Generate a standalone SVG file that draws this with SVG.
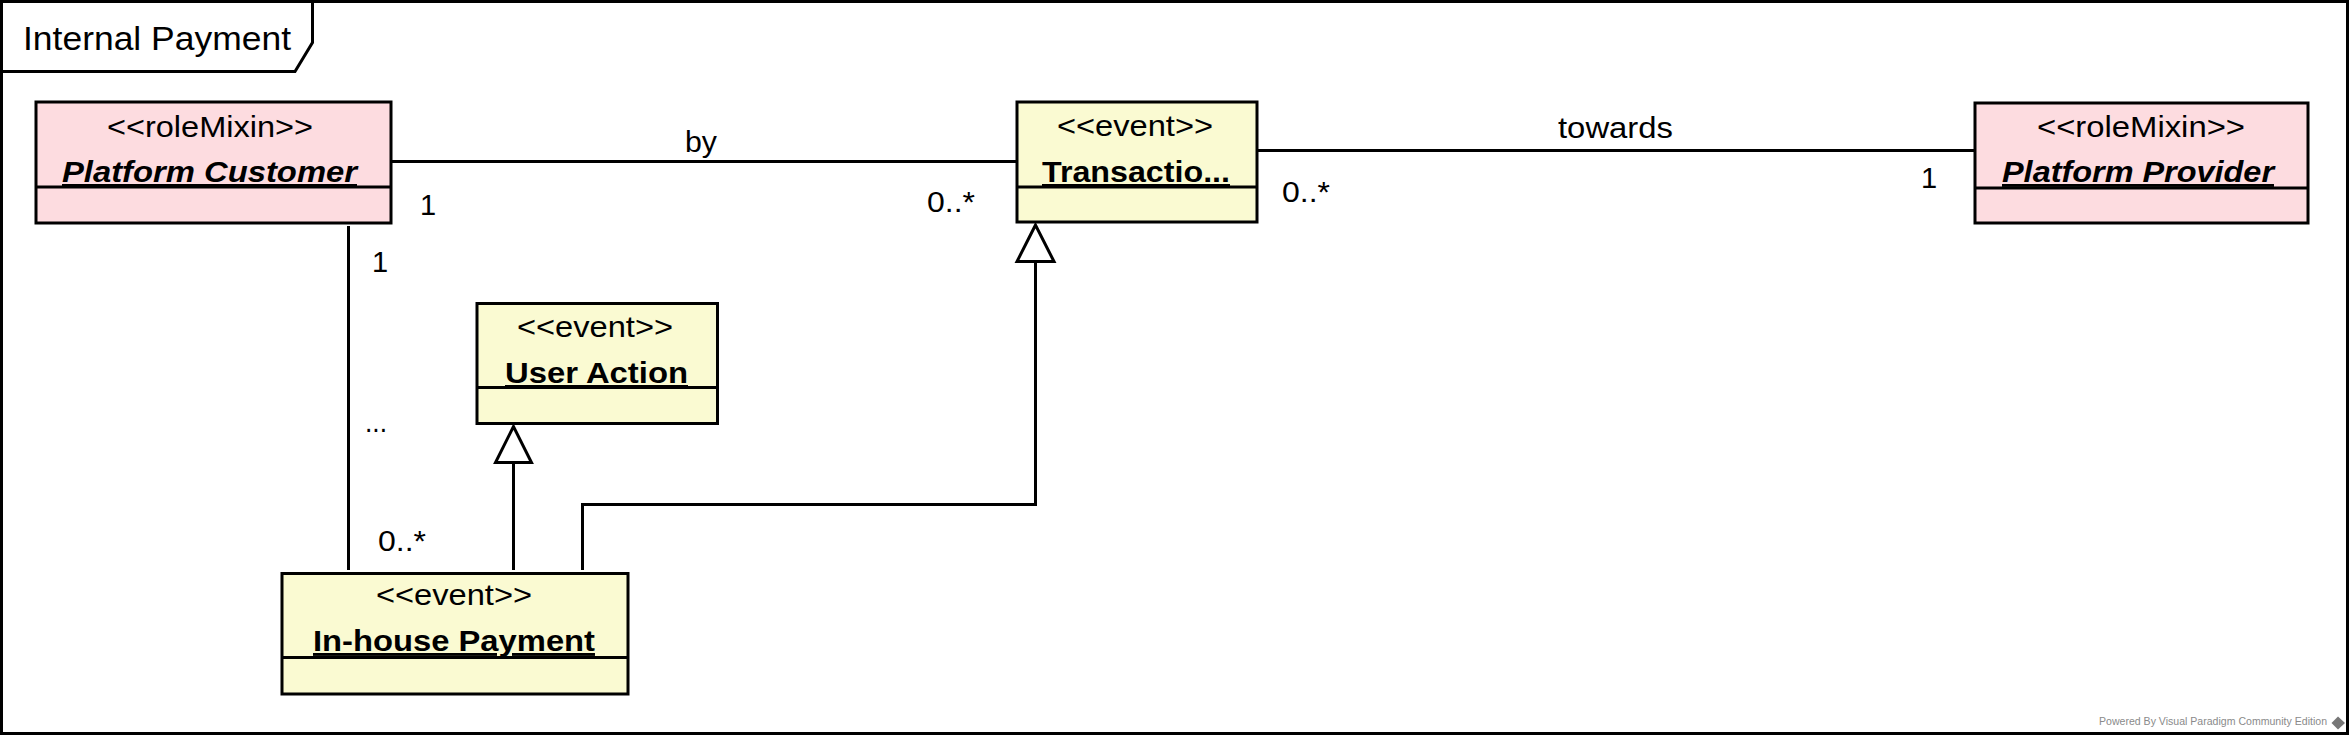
<svg xmlns="http://www.w3.org/2000/svg" width="2349" height="735" viewBox="0 0 2349 735">
<style>
  text { font-family: "Liberation Sans", Arial, sans-serif; fill: #000; }
  .st { font-size: 29px; }
  .nm { font-size: 29px; font-weight: bold; text-decoration: underline; }
  .it { font-style: italic; }
  .lbl { font-size: 29px; }
  .role rect { fill: #FDDCE0; stroke: #000; stroke-width: 3; }
  .ev rect { fill: #FAFAD2; stroke: #000; stroke-width: 3; }
  .div { stroke: #000; stroke-width: 3; }
  .conn line, .conn polyline { stroke: #000; stroke-width: 3; fill: none; }
  .gen { fill: #fff; stroke: #000; stroke-width: 3; stroke-linejoin: miter; }
</style>
<rect x="0" y="0" width="2349" height="735" fill="#fff"/>
<g id="frame">
  <rect x="1.5" y="1.5" width="2346" height="732" fill="none" stroke="#000" stroke-width="3"/>
  <polyline points="0,71.5 295,71.5 312.5,42.5 312.5,0" fill="none" stroke="#000" stroke-width="3"/>
  <text x="23" y="50" font-size="33" textLength="268" lengthAdjust="spacingAndGlyphs">Internal Payment</text>
</g>
<g id="connectors" class="conn">
  <line x1="391" y1="161.5" x2="1017" y2="161.5"/>
  <line x1="1257" y1="150.5" x2="1975" y2="150.5"/>
  <line x1="348.5" y1="226" x2="348.5" y2="570"/>
  <line x1="513.5" y1="570" x2="513.5" y2="462.5"/>
  <polygon class="gen" points="513.5,426.5 495.5,462.5 531.5,462.5"/>
  <polyline points="582.5,570 582.5,504.5 1035.5,504.5 1035.5,261.5"/>
  <polygon class="gen" points="1035.5,225 1017,261.5 1054,261.5"/>
  <text class="lbl" x="685" y="152" textLength="32" lengthAdjust="spacingAndGlyphs">by</text>
  <text class="lbl" x="420" y="215">1</text>
  <text class="lbl" x="927" y="212" textLength="48" lengthAdjust="spacingAndGlyphs">0..*</text>
  <text class="lbl" x="1558" y="138" textLength="115" lengthAdjust="spacingAndGlyphs">towards</text>
  <text class="lbl" x="1282" y="202" textLength="48" lengthAdjust="spacingAndGlyphs">0..*</text>
  <text class="lbl" x="1921" y="188">1</text>
  <text class="lbl" x="372" y="272">1</text>
  <text class="lbl" x="365" y="432" textLength="22" lengthAdjust="spacingAndGlyphs">...</text>
  <text class="lbl" x="378" y="551" textLength="48" lengthAdjust="spacingAndGlyphs">0..*</text>
</g>
<g id="platform-customer" class="role">
  <rect x="36" y="102" width="355" height="121"/>
  <line class="div" x1="36" y1="187" x2="391" y2="187"/>
  <text class="st" x="107" y="137" textLength="206" lengthAdjust="spacingAndGlyphs">&lt;&lt;roleMixin&gt;&gt;</text>
  <text class="nm it" x="62" y="182" textLength="295" lengthAdjust="spacingAndGlyphs">Platform Customer</text>
</g>
<g id="transaction" class="ev">
  <rect x="1017" y="102" width="240" height="120"/>
  <line class="div" x1="1017" y1="187" x2="1257" y2="187"/>
  <text class="st" x="1057" y="136" textLength="156" lengthAdjust="spacingAndGlyphs">&lt;&lt;event&gt;&gt;</text>
  <text class="nm" x="1042" y="182" textLength="188" lengthAdjust="spacingAndGlyphs">Transactio...</text>
</g>
<g id="platform-provider" class="role">
  <rect x="1975" y="103" width="333" height="120"/>
  <line class="div" x1="1975" y1="188" x2="2308" y2="188"/>
  <text class="st" x="2037" y="137" textLength="208" lengthAdjust="spacingAndGlyphs">&lt;&lt;roleMixin&gt;&gt;</text>
  <text class="nm it" x="2002" y="182" textLength="272" lengthAdjust="spacingAndGlyphs">Platform Provider</text>
</g>
<g id="user-action" class="ev">
  <rect x="477" y="303.5" width="240.5" height="120"/>
  <line class="div" x1="477" y1="387.5" x2="717.5" y2="387.5"/>
  <text class="st" x="517" y="337" textLength="156" lengthAdjust="spacingAndGlyphs">&lt;&lt;event&gt;&gt;</text>
  <text class="nm" x="505" y="383" textLength="183" lengthAdjust="spacingAndGlyphs">User Action</text>
</g>
<g id="in-house-payment" class="ev">
  <rect x="282" y="573.5" width="346" height="120.5"/>
  <line class="div" x1="282" y1="657.5" x2="628" y2="657.5"/>
  <text class="st" x="376" y="605" textLength="156" lengthAdjust="spacingAndGlyphs">&lt;&lt;event&gt;&gt;</text>
  <text class="nm" x="313" y="651" textLength="282" lengthAdjust="spacingAndGlyphs">In-house Payment</text>
</g>
<g id="watermark">
  <text x="2099" y="725" font-size="10.5" fill="#8a8a8a" style="fill:#8a8a8a" textLength="228" lengthAdjust="spacingAndGlyphs">Powered By Visual Paradigm Community Edition</text>
  <polygon points="2338,716.5 2345,723 2338,729.5 2331.5,723" fill="#777"/>
</g>
</svg>
